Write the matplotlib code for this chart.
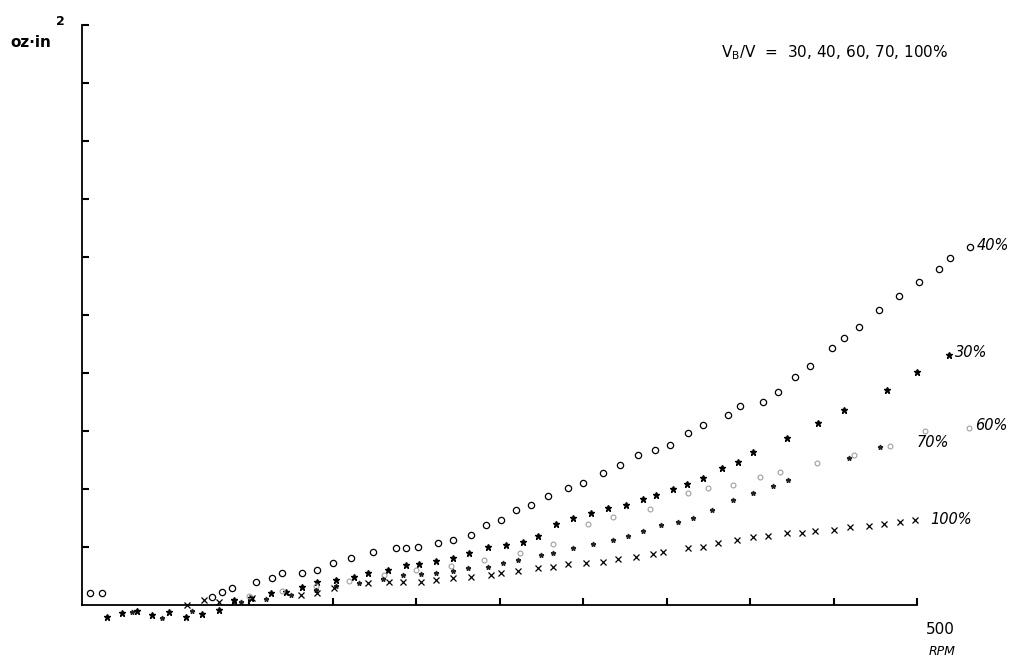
import numpy as np
import matplotlib
matplotlib.use("Agg")
import matplotlib.pyplot as plt

# speed (RPM) and torque values (y in tick units 0..10)
rpm_40 = [5, 12, 78, 84, 90, 104, 114, 120, 132, 141, 150, 161, 174, 188, 194, 201,
          213, 222, 233, 242, 251, 260, 269, 279, 291, 300, 312, 322, 333, 343, 352,
          363, 372, 387, 394, 408, 417, 427, 436, 449, 456, 465, 477, 489, 501, 513,
          520, 532]
val_40 = [0.20, 0.20, 0.14, 0.22, 0.29, 0.40, 0.47, 0.55, 0.55, 0.60, 0.72, 0.81,
          0.91, 0.98, 0.98, 1.00, 1.07, 1.12, 1.21, 1.38, 1.47, 1.64, 1.72, 1.88,
          2.02, 2.10, 2.28, 2.41, 2.59, 2.67, 2.76, 2.97, 3.10, 3.28, 3.43, 3.50,
          3.67, 3.93, 4.12, 4.43, 4.60, 4.79, 5.09, 5.33, 5.57, 5.79, 5.98, 6.17]

rpm_30 = [15, 24, 33, 42, 52, 62, 72, 82, 91, 101, 113, 122, 132, 141, 152, 163,
          171, 183, 194, 202, 212, 222, 232, 243, 254, 264, 273, 284, 294, 305, 315,
          326, 336, 344, 354, 362, 372, 383, 393, 402, 422, 441, 456, 482, 500, 519]
val_30 = [-0.20, -0.14, -0.10, -0.18, -0.12, -0.20, -0.15, -0.08, 0.09, 0.12, 0.21,
          0.22, 0.31, 0.40, 0.43, 0.48, 0.55, 0.60, 0.69, 0.71, 0.76, 0.81, 0.90,
          1.00, 1.03, 1.09, 1.19, 1.40, 1.50, 1.59, 1.67, 1.72, 1.83, 1.90, 2.00,
          2.09, 2.19, 2.36, 2.47, 2.64, 2.88, 3.14, 3.36, 3.71, 4.02, 4.31]

rpm_60 = [100, 120, 140, 160, 181, 200, 221, 241, 262, 282, 303, 318, 340, 363,
          375, 390, 406, 418, 440, 462, 484, 505, 531]
val_60 = [0.15, 0.24, 0.33, 0.42, 0.52, 0.60, 0.68, 0.78, 0.90, 1.05, 1.40, 1.52,
          1.66, 1.93, 2.02, 2.07, 2.21, 2.29, 2.45, 2.58, 2.74, 3.00, 3.05]

rpm_70 = [30, 48, 66, 95, 110, 125, 140, 152, 166, 180, 192, 203, 212, 222, 231,
          243, 252, 261, 275, 282, 294, 306, 318, 327, 336, 347, 357, 366, 377,
          390, 402, 414, 423, 459, 478]
val_70 = [-0.12, -0.22, -0.10, 0.05, 0.10, 0.18, 0.26, 0.32, 0.38, 0.45, 0.52,
          0.53, 0.55, 0.59, 0.64, 0.66, 0.72, 0.78, 0.86, 0.90, 0.98, 1.05, 1.12,
          1.19, 1.28, 1.38, 1.43, 1.50, 1.64, 1.81, 1.93, 2.05, 2.16, 2.53, 2.72]

rpm_100 = [63, 73, 82, 91, 102, 131, 141, 151, 171, 184, 192, 203, 212, 222, 233,
           245, 251, 261, 273, 282, 291, 302, 312, 321, 332, 342, 348, 363, 372,
           381, 392, 402, 411, 422, 431, 439, 450, 460, 471, 480, 490, 499]
val_100 = [0.00, 0.09, 0.05, 0.05, 0.12, 0.17, 0.21, 0.29, 0.38, 0.40, 0.40, 0.40,
           0.43, 0.47, 0.48, 0.52, 0.55, 0.59, 0.64, 0.66, 0.71, 0.72, 0.74, 0.79,
           0.83, 0.88, 0.91, 0.98, 1.00, 1.07, 1.12, 1.17, 1.19, 1.24, 1.24, 1.28,
           1.29, 1.34, 1.36, 1.40, 1.43, 1.47]

labels = ["40%", "30%", "60%", "70%", "100%"]
label_pos = [(536, 6.2), (523, 4.36), (535, 3.1), (500, 2.8), (508, 1.47)]

fig = plt.figure(figsize=(10.12, 6.61), dpi=100)
ax = fig.add_axes([0, 0, 1, 0.962])
ax.set_xlim(-82 / 1.67, (1012 - 82) / 1.67)
ax.set_ylim(-56 / 58, 10)

ax.plot(rpm_40, val_40, 'o', ms=4.5, mfc='none', mec='black', mew=0.9)
ax.plot(rpm_30, val_30, '*', ms=4.5, color='black')
ax.plot(rpm_60, val_60, 'o', ms=3.5, mfc='none', mec='#a0a0a0', mew=0.8)
ax.plot(rpm_70, val_70, '*', ms=3.5, color='#222222')
ax.plot(rpm_100, val_100, 'x', ms=4.5, color='black', mew=0.9)

for lab, (lx, ly) in zip(labels, label_pos):
    ax.text(lx, ly, lab, fontsize=10.5, style='italic', ha='left', va='center')

for s in ['top', 'right']:
    ax.spines[s].set_visible(False)
ax.spines['left'].set_position(('data', 0))
ax.spines['bottom'].set_position(('data', 0))
ax.spines['left'].set_bounds(0, 10)
ax.spines['bottom'].set_bounds(0, 500)
ax.spines['left'].set_linewidth(1.3)
ax.spines['bottom'].set_linewidth(1.3)

ax.set_yticks(np.arange(1, 11))
ax.set_xticks(np.arange(100, 501, 50))
ax.tick_params(axis='both', direction='in', length=5, width=1.5, labelleft=False,
               labelbottom=False)

ax.text(514, -0.43, "500", fontsize=11, ha='center', va='center')
ax.text(515, -0.81, "RPM", fontsize=9, style='italic', ha='center', va='center')

fig.text(0.010, 0.935, "oz·in", fontsize=11, weight='bold', ha='left', va='center')
fig.text(0.055, 0.967, "2", fontsize=9, weight='bold', ha='left', va='center')
fig.text(0.712, 0.921, r"V$_\mathregular{B}$/V  =  30, 40, 60, 70, 100%", fontsize=11,
         ha='left', va='center')

fig.savefig("out.png", dpi=100)
